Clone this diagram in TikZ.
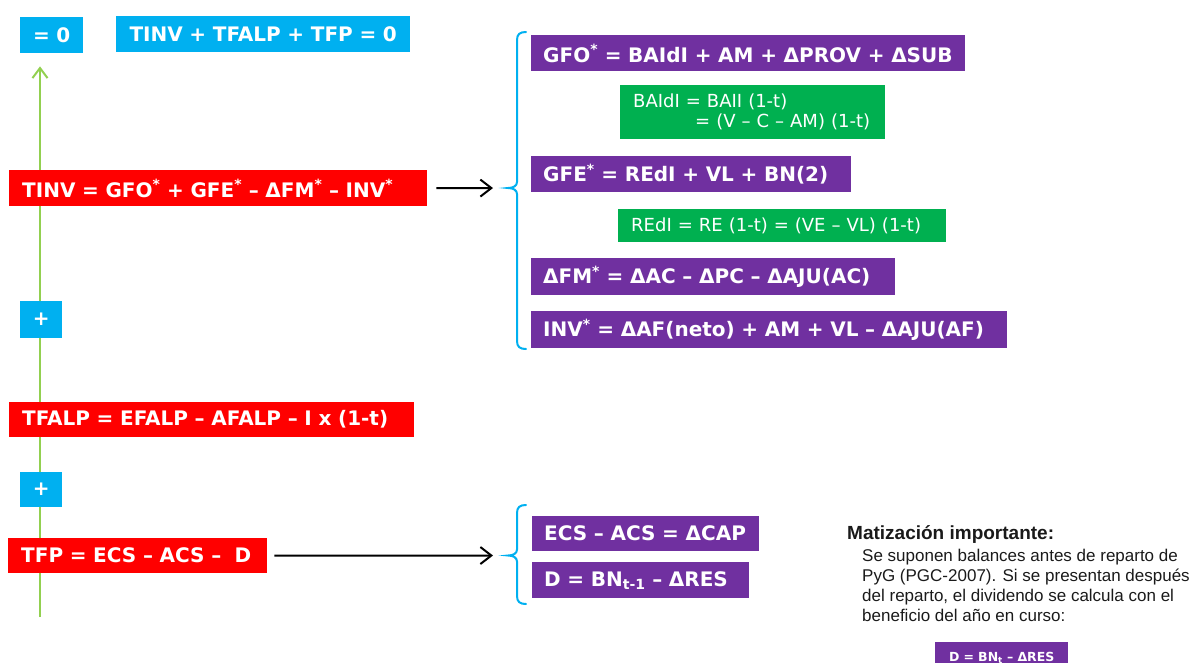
\documentclass[tikz,border=0pt]{standalone}
\usepackage{fontspec}
\setmainfont{DejaVu Sans}
\newfontfamily\notefont{Liberation Sans}
\usetikzlibrary{arrows.meta,backgrounds}

\definecolor{cblue}{HTML}{00B0F0}
\definecolor{cred}{HTML}{FF0000}
\definecolor{cpurple}{HTML}{7030A0}
\definecolor{cgreen}{HTML}{00B050}
\definecolor{cline}{HTML}{92D050}
\definecolor{cnote}{HTML}{1A1A1A}

\newcommand{\starsup}{\textsuperscript{*}}

\begin{document}
\begin{tikzpicture}[x=1pt,y=-1pt,
  eqbox/.style={anchor=north west, inner ysep=0pt, inner xsep=13pt, align=left,
    text=white, font=\bfseries\fontsize{20}{23}\selectfont},
  redbox/.style={eqbox, fill=cred},
  purplebox/.style={eqbox, fill=cpurple, inner xsep=12pt},
  greenbox/.style={eqbox, fill=cgreen, font=\fontsize{18}{20}\selectfont},
  bluebox/.style={eqbox, fill=cblue, inner xsep=0pt, align=center},
  linkarrow/.style={draw=black, line width=2pt,
    -{Straight Barb[length=11pt,width=17pt,line width=2pt]}},
  sumarrow/.style={draw=cline, line width=2pt,
    -{Straight Barb[length=10pt,width=15pt,line width=2pt]}},
  brace/.style={draw=cblue, line width=2pt, line cap=round},
]
\useasboundingbox (0,0) rectangle (1197,662);

% left column: the three flows and their sum
\node[bluebox, text width=63pt, minimum height=36pt] (zero) at (20,17) {= 0};
\node[bluebox, text width=294pt, minimum height=36pt] (sum) at (116,16) {TINV + TFALP + TFP = 0};
\node[redbox, text width=392pt, minimum height=36pt] (tinv) at (9,170)
  {\mbox{TINV = GFO\starsup{} + GFE\starsup{} – ΔFM\starsup{} – INV\starsup}};
\node[bluebox, text width=42pt, minimum height=37pt] (plusa) at (20,301) {+};
\node[redbox, text width=379pt, minimum height=35pt] (tfalp) at (9,402)
  {\mbox{TFALP = EFALP – AFALP – I x (1-t)}};
\node[bluebox, text width=42pt, minimum height=35pt] (plusb) at (20,472) {+};
\node[redbox, text width=233pt, minimum height=35pt] (tfp) at (8,538)
  {\mbox{TFP = ECS – ACS –\ \ D}};

\coordinate (gbot) at (40,617);
\begin{scope}[on background layer]
  \draw[sumarrow, shorten >=13pt] (gbot) -- (gbot |- zero.south);
\end{scope}

% components of TINV
\node[purplebox, text width=410pt, minimum height=36pt] (gfo) at (531,35)
  {\mbox{GFO\starsup{} = BAIdI + AM + ΔPROV + ΔSUB}};
\node[greenbox, text width=239pt, minimum height=54pt] (baidi) at (620,85)
  {\mbox{BAIdI = BAII (1-t)}\\\mbox{\hspace*{62pt}= (V – C – AM) (1-t)}};
\node[purplebox, text width=296pt, minimum height=36pt] (gfe) at (531,156)
  {\mbox{GFE\starsup{} = REdI + VL + BN(2)}};
\node[greenbox, text width=302pt, minimum height=33pt] (redi) at (618,209)
  {\mbox{REdI = RE (1-t) = (VE – VL) (1-t)}};
\node[purplebox, text width=340pt, minimum height=37pt] (dfm) at (531,258)
  {\mbox{ΔFM\starsup{} = ΔAC – ΔPC – ΔAJU(AC)}};
\node[purplebox, text width=452pt, minimum height=37pt] (inv) at (531,311)
  {\mbox{INV\starsup{} = ΔAF(neto) + AM + VL – ΔAJU(AF)}};

\coordinate (cusp1) at (508,188);
\draw[brace] (526,32) .. controls (520,32) and (517,34) .. (517,40)
  -- (517,182) .. controls (517,186) and (513,188) .. (cusp1)
  .. controls (513,188) and (517,190) .. (517,194)
  -- (517,341) .. controls (517,347) and (520,349) .. (526,349);
\draw[linkarrow, shorten <=9pt, shorten >=15pt] (tinv.east) -- (cusp1);

% components of TFP
\node[purplebox, text width=203pt, minimum height=35pt] (ecs) at (532,516)
  {\mbox{ECS – ACS = ΔCAP}};
\node[purplebox, text width=193pt, minimum height=36pt] (dres) at (532,562)
  {\mbox{D = BN\textsubscript{t-1} – ΔRES}};

\coordinate (cusp2) at (508,555.5);
\draw[brace] (526,505) .. controls (520,505) and (517,507) .. (517,513)
  -- (517,549.5) .. controls (517,553.5) and (513,555.5) .. (cusp2)
  .. controls (513,555.5) and (517,557.5) .. (517,561.5)
  -- (517,596) .. controls (517,602) and (520,604) .. (526,604);
\draw[linkarrow, shorten <=7pt, shorten >=15pt] (tfp.east) -- (cusp2);

% note on the dividend
\node[anchor=base west, inner sep=0pt, text=cnote,
  font=\notefont\bfseries\fontsize{19}{21}\selectfont] (notetitle) at (847,539)
  {Matización importante:};
\node[anchor=north west, inner sep=0pt, align=left, text=cnote,
  font=\notefont\fontsize{17}{20}\selectfont] (notebody) at (862,548.5)
  {Se suponen balances antes de reparto de\\
   PyG (PGC-2007). Si se presentan después\\
   del reparto, el dividendo se calcula con el\\
   beneficio del año en curso:};
\node[purplebox, inner xsep=0pt, align=center, text width=133pt, minimum height=32pt,
  font=\bfseries\fontsize{12.5}{15}\selectfont] (dbt) at (935,642)
  {D = BN\textsubscript{t} – ΔRES};
\end{tikzpicture}
\end{document}
